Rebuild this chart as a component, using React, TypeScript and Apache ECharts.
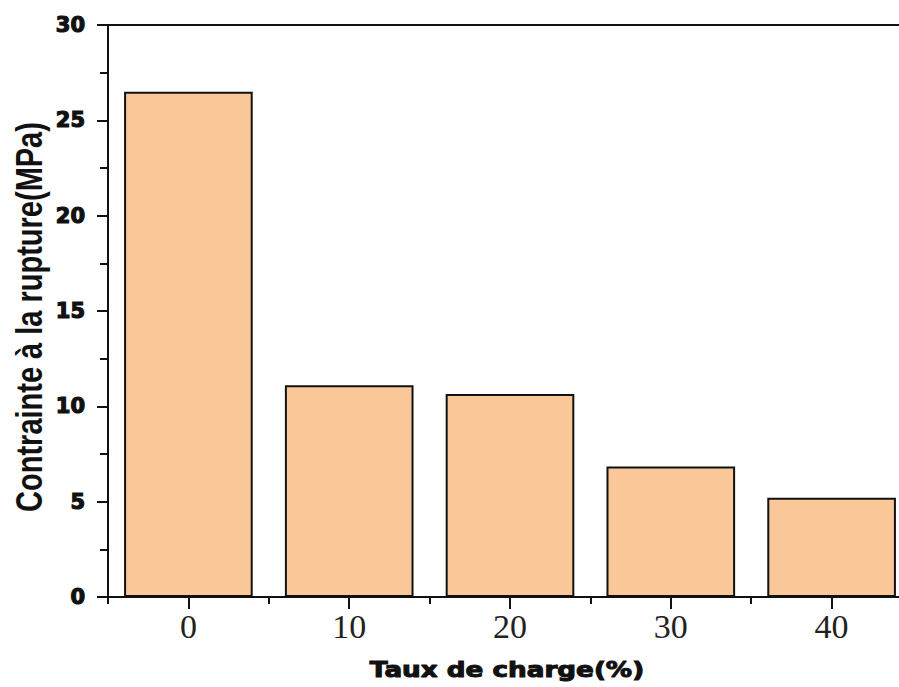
import { useEffect, useRef } from 'react';
import * as echarts from 'echarts';

// Filler loading rate (%) and tensile stress at break (MPa)
const chargeRates = ['0', '10', '20', '30', '40'];
const ruptureStress = [26.5, 11.1, 10.65, 6.85, 5.2];

const stressMin = 0;
const stressMax = 30;
const stressStep = 5;

const xTitle = 'Taux de charge(%)';
const yTitle = 'Contrainte à la rupture(MPa)';

export default function App() {
  const ref = useRef<HTMLDivElement>(null);

  useEffect(() => {
    document.body.style.margin = '0';
    const chart = echarts.init(ref.current!, null, { renderer: 'svg' });
    const ink = '#111111';
    const axisStroke = { color: ink, width: 2 };

    chart.setOption({
      animation: false,
      backgroundColor: '#ffffff',
      grid: { left: 108, right: -13, top: 25, bottom: 90, containLabel: false, outerBoundsMode: 'none' },
      xAxis: [
        {
          // main axis: ticks and labels centred on each bar
          type: 'category',
          data: chargeRates,
          position: 'bottom',
          axisLine: { show: true, onZero: false, lineStyle: axisStroke },
          axisTick: { show: true, alignWithLabel: true, length: 12, lineStyle: axisStroke },
          axisLabel: {
            margin: 12,
            fontFamily: 'Liberation Serif',
            fontSize: 34,
            color: '#222222',
          },
          splitLine: { show: false },
        },
        {
          // short ticks on the band boundaries
          type: 'category',
          data: chargeRates,
          position: 'bottom',
          axisLine: { show: false, onZero: false },
          axisTick: { show: true, alignWithLabel: false, length: 7, lineStyle: axisStroke },
          axisLabel: { show: false },
          splitLine: { show: false },
        },
        {
          // top frame line
          type: 'category',
          data: chargeRates,
          position: 'top',
          axisLine: { show: true, onZero: false, lineStyle: axisStroke },
          axisTick: { show: false },
          axisLabel: { show: false },
          splitLine: { show: false },
        },
      ],
      yAxis: {
        type: 'value',
        min: stressMin,
        max: stressMax,
        interval: stressStep,
        axisLine: { show: true, lineStyle: axisStroke },
        axisTick: { show: true, length: 11, lineStyle: axisStroke },
        minorTick: { show: true, splitNumber: 2, length: 8, lineStyle: axisStroke },
        splitLine: { show: false },
        minorSplitLine: { show: false },
        axisLabel: {
          margin: 23,
          fontFamily: 'DejaVu Sans',
          fontWeight: 'bold',
          fontSize: 21,
          color: ink,
          textBorderColor: ink,
          textBorderWidth: 1.2,
        },
      },
      series: [
        {
          type: 'bar',
          xAxisIndex: 0,
          yAxisIndex: 0,
          data: ruptureStress,
          barCategoryGap: '20%',
          itemStyle: { color: '#FAC898', borderColor: ink, borderWidth: 2 },
        },
      ],
      graphic: [
        {
          type: 'text',
          x: 29,
          y: 317,
          rotation: Math.PI / 2,
          scaleY: 1.25,
          style: {
            text: yTitle,
            fontFamily: 'Liberation Sans',
            fontWeight: 'bold',
            fontSize: 29,
            fill: ink,
            align: 'center',
            verticalAlign: 'middle',
            textAlign: 'center',
            textVerticalAlign: 'middle',
          },
        },
        {
          type: 'text',
          x: 507,
          y: 670,
          scaleX: 1.28,
          style: {
            text: xTitle,
            fontFamily: 'DejaVu Sans',
            fontWeight: 'bold',
            fontSize: 20.5,
            fill: ink,
            stroke: ink,
            lineWidth: 1,
            align: 'center',
            verticalAlign: 'middle',
            textAlign: 'center',
            textVerticalAlign: 'middle',
          },
        },
      ],
    });

    return () => chart.dispose();
  }, []);

  return (
    <div
      ref={ref}
      style={{ position: 'fixed', left: 0, top: 0, width: 899, height: 687 }}
    />
  );
}
